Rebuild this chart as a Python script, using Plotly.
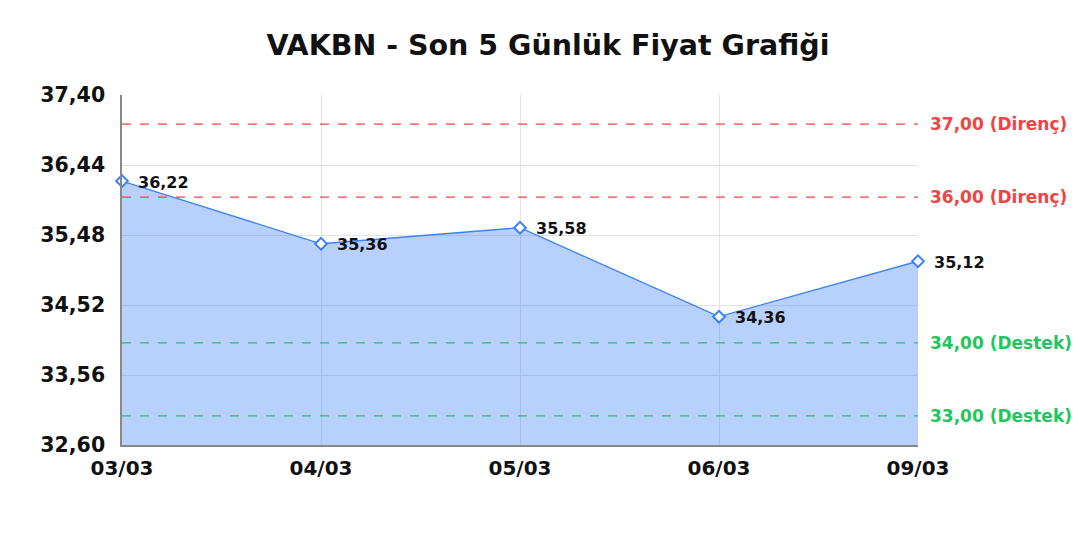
import plotly.graph_objects as go

dates = ["03/03", "04/03", "05/03", "06/03", "09/03"]
prices = [36.22, 35.36, 35.58, 34.36, 35.12]
resistance = [37.00, 36.00]
support = [34.00, 33.00]
y_ticks = [32.60, 33.56, 34.52, 35.48, 36.44, 37.40]

FONT = "DejaVu Sans"
BLUE = "#3b82f6"
RED = "#ef4444"
GREEN = "#22c55e"

xs = list(range(len(dates)))


def fmt(v):
    return f"{v:.2f}".replace(".", ",")


fig = go.Figure()
fig.add_trace(go.Scatter(
    x=xs, y=prices, mode="lines+markers",
    fill="tozeroy", fillcolor="rgba(59,130,246,0.37)",
    line=dict(color=BLUE, width=1.3),
    marker=dict(symbol="diamond", size=9, color="white", line=dict(width=2, color=BLUE)),
    cliponaxis=False, hoverinfo="skip", showlegend=False,
))

shapes = []
annotations = []
for x, v in zip(xs, prices):
    annotations.append(dict(xref="x", x=x, yref="y", y=v, xanchor="left", yanchor="middle",
                            xshift=14, yshift=-1, showarrow=False, text=fmt(v),
                            font=dict(family=FONT, size=16, color="#111111", weight="bold")))
for lvl in resistance:
    shapes.append(dict(type="line", xref="paper", x0=0, x1=1, yref="y", y0=lvl, y1=lvl,
                       line=dict(color=RED, width=1.3, dash="dash"), layer="above"))
    annotations.append(dict(xref="paper", x=1, xshift=10, yref="y", y=lvl, xanchor="left",
                            yanchor="middle", showarrow=False,
                            text=fmt(lvl) + " (Direnç)",
                            font=dict(family=FONT, size=17, color=RED, weight="bold")))
for lvl in support:
    shapes.append(dict(type="line", xref="paper", x0=0, x1=1, yref="y", y0=lvl, y1=lvl,
                       line=dict(color=GREEN, width=1.3, dash="dash"), layer="above"))
    annotations.append(dict(xref="paper", x=1, xshift=10, yref="y", y=lvl, xanchor="left",
                            yanchor="middle", showarrow=False,
                            text=fmt(lvl) + " (Destek)",
                            font=dict(family=FONT, size=17, color=GREEN, weight="bold")))

fig.update_layout(
    width=1080, height=540,
    margin=dict(l=114, r=170, t=87, b=103),
    paper_bgcolor="white", plot_bgcolor="white",
    title=dict(text="VAKBN - Son 5 Günlük Fiyat Grafiği", x=0.5, xanchor="center",
               y=1 - 37 / 540, yanchor="middle",
               font=dict(family=FONT, size=28.5, color="#111111", weight="bold")),
    shapes=shapes, annotations=annotations,
    xaxis=dict(range=[0, len(dates) - 1], tickvals=xs, ticktext=dates,
               showgrid=True, gridcolor="#e3e3e3", gridwidth=1,
               showline=True, linecolor="#888888", linewidth=2,
               ticks="", ticklabelstandoff=4,
               tickfont=dict(family=FONT, size=20, color="#111111", weight="bold"),
               zeroline=False, fixedrange=True),
    yaxis=dict(range=[y_ticks[0], y_ticks[-1]], tickvals=y_ticks,
               ticktext=[fmt(v) for v in y_ticks],
               showgrid=True, gridcolor="#e3e3e3", gridwidth=1,
               showline=True, linecolor="#888888", linewidth=1.5,
               ticks="", ticklabelstandoff=11,
               tickfont=dict(family=FONT, size=20.5, color="#111111", weight="bold"),
               zeroline=False, fixedrange=True),
)

fig.write_html("out.html")
